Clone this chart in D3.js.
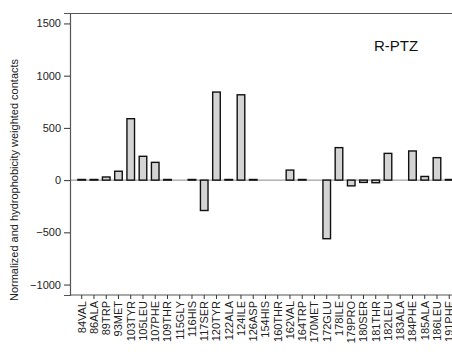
<!DOCTYPE html>
<meta charset="utf-8">
<head>
  <title>R-PTZ contacts</title>
  <style>
    body { margin: 0; background: #fff; }
    text { font-family: "Liberation Sans", Arial, sans-serif; }
  </style>
</head>
<script src="https://d3js.org/d3.v7.min.js"></script>
<div id="my_dataviz"></div>
<script>

// residues along the x axis
var residues = ["84VAL", "86ALA", "89TRP", "93MET", "103TYR", "105LEU", "107PHE", "109THR",
  "115GLY", "116HIS", "117SER", "120TYR", "122ALA", "124ILE", "126ASP", "154HIS",
  "160THR", "162VAL", "164TRP", "170MET", "172GLU", "178ILE", "179PRO", "180SER",
  "181THR", "182LEU", "183ALA", "184PHE", "185ALA", "186LEU", "191PHE"];

// normalized and hydrophobicity weighted contacts
var contacts = [6, 6, 30, 85, 588, 228, 170, 6,
  0, 6, -291, 843, 6, 817, 6, 0,
  0, 96, 6, 0, -561, 311, -55, -22,
  -25, 256, 0, 279, 35, 215, 6];

var yTicks = [-1000, -500, 0, 500, 1000, 1500];
var panelLabel = "R-PTZ";

var margin = {top: 13, right: 0, bottom: 57, left: 70},
    width = 452 - margin.left - margin.right,
    height = 352 - margin.top - margin.bottom;

var svg = d3.select("#my_dataviz")
  .append("svg")
    .attr("width", 452)
    .attr("height", 352)
  .append("g")
    .attr("transform", "translate(" + margin.left + "," + margin.top + ")");

// x: one band per residue, the last band runs past the edge of the picture
var step = 12.25;
var x = d3.scaleBand()
  .domain(residues)
  .range([5.6, 5.6 + step * residues.length])
  .paddingInner(0.38)
  .paddingOuter(0.19);

var y = d3.scaleLinear()
  .domain([-1100, 1600])
  .range([height, 0]);

// frame: top line
svg.append("line")
  .attr("x1", 0).attr("x2", width + 10)
  .attr("y1", 0.5).attr("y2", 0.5)
  .attr("stroke", "#555").attr("stroke-width", 1.2);

// zero line
svg.append("line")
  .attr("x1", 0).attr("x2", width + 10)
  .attr("y1", y(0)).attr("y2", y(0))
  .attr("stroke", "#888").attr("stroke-width", 1);

// Y axis
var yAxis = svg.append("g")
  .call(d3.axisLeft(y).tickValues(yTicks).tickSize(6).tickPadding(3).tickFormat(d3.format("d")));
yAxis.select(".domain").attr("stroke", "#555").attr("stroke-width", 1.2);
yAxis.selectAll(".tick line").attr("stroke", "#333");
yAxis.selectAll("text").style("font-size", "11px").attr("fill", "#222");

// X axis
var xAxis = svg.append("g")
  .attr("transform", "translate(0," + height + ")")
  .call(d3.axisBottom(x).tickSize(4).tickSizeOuter(0));
xAxis.select(".domain").attr("d", "M0,0H" + (width + 10)).attr("stroke", "#555").attr("stroke-width", 1.2);
xAxis.selectAll(".tick line").attr("stroke", "#333");
xAxis.selectAll("text")
  .style("font-size", "11px")
  .attr("fill", "#222")
  .attr("transform", "rotate(-90)")
  .attr("x", -6)
  .attr("y", 0)
  .attr("dy", "0.35em")
  .style("text-anchor", "end");

// bars
var data = residues.map(function(r, i) { return {res: r, value: contacts[i]}; })
  .filter(function(d) { return d.value !== 0; });

svg.selectAll(".bar")
  .data(data)
  .enter()
  .append("rect")
    .attr("class", "bar")
    .attr("x", function(d) { return x(d.res); })
    .attr("width", x.bandwidth())
    .attr("y", function(d) { return y(Math.max(0, d.value)); })
    .attr("height", function(d) { return Math.abs(y(d.value) - y(0)); })
    .attr("fill", "#d4d4d4")
    .attr("stroke", "#111")
    .attr("stroke-width", 1.4);

// panel label
svg.append("text")
  .attr("x", 326)
  .attr("y", 38)
  .style("text-anchor", "middle")
  .style("font-size", "15px")
  .attr("fill", "#111")
  .text(panelLabel);

// y title
svg.append("text")
  .attr("transform", "rotate(-90)")
  .attr("x", -(180 - margin.top))
  .attr("y", -52)
  .style("text-anchor", "middle")
  .style("font-size", "11px")
  .attr("fill", "#222")
  .text("Normalized and hydrophobicity weighted contacts");

</script>
